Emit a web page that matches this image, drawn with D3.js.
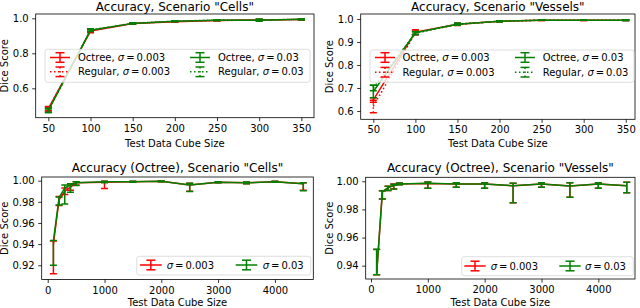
<!DOCTYPE html>
<html><head><meta charset="utf-8">
<script src="https://cdn.jsdelivr.net/npm/d3@7"></script>
<style>body{margin:0;background:#fff} svg{display:block} text{font-family:"DejaVu Sans",sans-serif;fill:#000}</style>
</head><body><svg id="c" width="640" height="308"></svg>
<script>
// ---------- data ----------
const xTop = [50, 100, 150, 200, 250, 300, 350];
const xTopTicks = [50, 100, 150, 200, 250, 300, 350];
const xBottom = [100, 200, 300, 400, 500, 1000, 1500, 2000, 2500, 3000, 3500, 4000, 4500];
const xBottomTicks = [0, 1000, 2000, 3000, 4000];

const yTicksCellsTop = [0.6, 0.8, 1.0];
const yTicksVesselsTop = [0.6, 0.7, 0.8, 0.9, 1.0];
const yTicksCellsBottom = [0.92, 0.94, 0.96, 0.98, 1.00];
const yTicksVesselsBottom = [0.94, 0.96, 0.98, 1.00];

const titles = ['Accuracy, Scenario "Cells"', 'Accuracy, Scenario "Vessels"',
  'Accuracy (Octree), Scenario "Cells"', 'Accuracy (Octree), Scenario "Vessels"'];
const xLabel = 'Test Data Cube Size';
const yLabel = 'Dice Score';
const sigmas = ['0.003', '0.03'];
const methods = ['Octree', 'Regular'];

// top: mean and symmetric error
const cellsOct003 = [0.484, 0.927, 0.970, 0.981, 0.988, 0.990, 0.993];
const cellsOct003Err = [0.012, 0.010, 0.004, 0.004, 0.002, 0.003, 0.002];
const cellsReg003 = [0.480, 0.929, 0.971, 0.982, 0.988, 0.991, 0.993];
const cellsReg003Err = [0.010, 0.008, 0.003, 0.003, 0.002, 0.003, 0.002];
const cellsOct03 = [0.474, 0.932, 0.971, 0.983, 0.989, 0.989, 0.994];
const cellsOct03Err = [0.012, 0.008, 0.004, 0.003, 0.002, 0.006, 0.002];
const cellsReg03 = [0.472, 0.933, 0.972, 0.984, 0.990, 0.991, 0.994];
const cellsReg03Err = [0.010, 0.006, 0.003, 0.002, 0.002, 0.004, 0.002];

const vesOct003 = [0.648, 0.943, 0.977, 0.990, 0.995, 0.995, 0.995];
const vesOct003Err = [0.010, 0.010, 0.004, 0.002, 0.002, 0.002, 0.002];
const vesReg003 = [0.620, 0.940, 0.976, 0.990, 0.995, 0.995, 0.995];
const vesReg003Err = [0.027, 0.008, 0.004, 0.002, 0.002, 0.002, 0.002];
const vesOct03 = [0.685, 0.940, 0.977, 0.990, 0.995, 0.995, 0.995];
const vesOct03Err = [0.027, 0.006, 0.004, 0.002, 0.001, 0.001, 0.002];
const vesReg03 = [0.700, 0.938, 0.978, 0.990, 0.995, 0.995, 0.995];
const vesReg03Err = [0.012, 0.006, 0.003, 0.002, 0.001, 0.001, 0.002];

// bottom: mean, lower and upper bounds
const cellsB003 = [0.940, 0.982, 0.990, 0.994, 0.998, 0.9985, 0.999, 0.9995, 0.996, 0.9985, 0.998, 0.999, 0.997];
const cellsB003Lo = [0.912, 0.9765, 0.987, 0.991, 0.996, 0.9925, 0.9985, 0.999, 0.990, 0.998, 0.997, 0.9985, 0.991];
const cellsB003Hi = [0.943, 0.985, 0.993, 0.996, 0.999, 0.9995, 0.9995, 0.9998, 0.9975, 0.999, 0.9988, 0.9995, 0.998];
const cellsB03 = [0.943, 0.984, 0.993, 0.996, 0.998, 0.999, 0.999, 0.9995, 0.996, 0.9985, 0.998, 0.999, 0.997];
const cellsB03Lo = [0.920, 0.977, 0.978, 0.989, 0.9955, 0.998, 0.9985, 0.999, 0.9897, 0.998, 0.997, 0.9985, 0.9905];
const cellsB03Hi = [0.9435, 0.9845, 0.996, 0.997, 0.999, 0.9995, 0.9995, 0.9998, 0.9975, 0.999, 0.9988, 0.9995, 0.998];

const vesB003 = [0.9345, 0.9925, 0.9955, 0.997, 0.998, 0.9985, 0.998, 0.998, 0.9968, 0.998, 0.9967, 0.998, 0.9969];
const vesB003Lo = [0.9335, 0.9874, 0.9935, 0.9945, 0.9975, 0.995, 0.9957, 0.995, 0.9848, 0.9957, 0.9886, 0.995, 0.9919];
const vesB003Hi = [0.9515, 0.9933, 0.9965, 0.998, 0.9988, 0.9995, 0.999, 0.999, 0.9986, 0.999, 0.999, 0.999, 0.9993];
const vesB03 = [0.9345, 0.9925, 0.9955, 0.997, 0.998, 0.9986, 0.998, 0.998, 0.9969, 0.998, 0.9967, 0.998, 0.9969];
const vesB03Lo = [0.9335, 0.9874, 0.9935, 0.9945, 0.9975, 0.995, 0.9957, 0.995, 0.9848, 0.9957, 0.9886, 0.995, 0.9919];
const vesB03Hi = [0.9517, 0.9933, 0.9965, 0.9979, 0.9988, 0.9995, 0.999, 0.999, 0.9986, 0.999, 0.999, 0.999, 0.9993];

// ---------- drawing ----------
const RED = '#ff0000', GREEN = '#008000';
const svg = d3.select('#c');
const sym = (m, e) => ({mean: m, lo: m.map((v, i) => v - e[i]), hi: m.map((v, i) => v + e[i])});

const panels = [
  {xs: xTop, xt: xTopTicks, yt: yTicksCellsTop, yf: d3.format('.1f'), xd: [35, 365], yd: [0.432, 1.0246],
   l: 35.7, r: 314, t: 14, b: 117.7, title: titles[0], titleY: 10.5, xlY: 146.5, ylX: 8,
   series: [
     Object.assign({color: RED, dotted: false}, sym(cellsOct003, cellsOct003Err)),
     Object.assign({color: RED, dotted: true}, sym(cellsReg003, cellsReg003Err)),
     Object.assign({color: GREEN, dotted: false}, sym(cellsOct03, cellsOct03Err)),
     Object.assign({color: GREEN, dotted: true}, sym(cellsReg03, cellsReg03Err))],
   legend: {box: [45, 49.3, 310, 82.3], rows: [57.5, 71.8], cols: [[50, 70, 78], [190, 210, 218]], four: true}},
  {xs: xTop, xt: xTopTicks, yt: yTicksVesselsTop, yf: d3.format('.1f'), xd: [35, 361], yd: [0.564, 1.0217],
   l: 360.7, r: 635, t: 14, b: 119.3, title: titles[1], titleY: 10.5, xlY: 146.5, ylX: 333,
   series: [
     Object.assign({color: RED, dotted: false}, sym(vesOct003, vesOct003Err)),
     Object.assign({color: RED, dotted: true}, sym(vesReg003, vesReg003Err)),
     Object.assign({color: GREEN, dotted: false}, sym(vesOct03, vesOct03Err)),
     Object.assign({color: GREEN, dotted: true}, sym(vesReg03, vesReg03Err))],
   legend: {box: [370, 50, 634, 82.3], rows: [57.5, 72.2], cols: [[375, 395, 402.5], [515, 535, 542.7]], four: true}},
  {xs: xBottom, xt: xBottomTicks, yt: yTicksCellsBottom, yf: d3.format('.2f'), xd: [-106, 4676], yd: [0.9065, 1.0035],
   l: 41.7, r: 313.3, t: 177, b: 279.5, title: titles[2], titleY: 171.5, xlY: 305.5, ylX: 8,
   series: [
     {color: RED, dotted: false, mean: cellsB003, lo: cellsB003Lo, hi: cellsB003Hi},
     {color: GREEN, dotted: false, mean: cellsB03, lo: cellsB03Lo, hi: cellsB03Hi}],
   legend: {box: [136.7, 256.3, 310.7, 275], rows: [265], cols: [[140, 161.7, 166.7], [235.7, 257.3, 262.7]], four: false}},
  {xs: xBottom, xt: xBottomTicks, yt: yTicksVesselsBottom, yf: d3.format('.2f'), xd: [-93, 4645], yd: [0.93055, 1.00284],
   l: 365.7, r: 635, t: 177.3, b: 279, title: titles[3], titleY: 171.5, xlY: 305.5, ylX: 333,
   series: [
     {color: RED, dotted: false, mean: vesB003, lo: vesB003Lo, hi: vesB003Hi},
     {color: GREEN, dotted: false, mean: vesB03, lo: vesB03Lo, hi: vesB03Hi}],
   legend: {box: [461.7, 256.7, 633.3, 275.7], rows: [266], cols: [[464.3, 485.7, 490.7], [559.3, 580.7, 585]], four: false}}
];

const DOT = '1.5,2.5';

function errBar(g, cx, y0, y1, cw, color, dotted) {
  g.append('line').attr('x1', cx).attr('x2', cx).attr('y1', y0).attr('y2', y1)
    .attr('stroke', color).attr('stroke-width', 1.5).attr('stroke-dasharray', dotted ? DOT : null);
  [y0, y1].forEach(yy => g.append('line').attr('x1', cx - cw).attr('x2', cx + cw).attr('y1', yy).attr('y2', yy)
    .attr('stroke', color).attr('stroke-width', 1.5));
}

function sigmaText(g, x, y, prefix, sig) {
  const t = g.append('text').attr('x', x).attr('y', y).attr('font-size', 10).attr('dy', '0.36em');
  if (prefix) t.append('tspan').text(prefix + ', ');
  t.append('tspan').attr('font-style', 'italic').text('σ');
  t.append('tspan').text('\u2009=\u2009' + sig);
}

panels.forEach((p, pi) => {
  const x = d3.scaleLinear().domain(p.xd).range([p.l, p.r]);
  const y = d3.scaleLinear().domain(p.yd).range([p.b, p.t]);
  const g = svg.append('g');
  const cid = 'clip' + pi;
  svg.append('clipPath').attr('id', cid).append('rect')
    .attr('x', p.l).attr('y', p.t).attr('width', p.r - p.l).attr('height', p.b - p.t);
  const plot = g.append('g').attr('clip-path', `url(#${cid})`);
  p.series.forEach(s => {
    const pts = p.xs.map((xv, i) => ({x: xv, m: s.mean[i], lo: s.lo[i], hi: s.hi[i]}));
    const sg = plot.append('g');
    sg.append('path').datum(pts)
      .attr('d', d3.line().x(d => x(d.x)).y(d => y(d.m)))
      .attr('fill', 'none').attr('stroke', s.color).attr('stroke-width', 1.5)
      .attr('stroke-dasharray', s.dotted ? DOT : null);
    pts.forEach(d => errBar(sg, x(d.x), y(d.lo), y(d.hi), 3.5, s.color, s.dotted));
  });
  // frame
  g.append('rect').attr('x', p.l).attr('y', p.t).attr('width', p.r - p.l).attr('height', p.b - p.t)
    .attr('fill', 'none').attr('stroke', '#000').attr('stroke-width', 0.8);
  // axes
  const ax = g.append('g').attr('transform', `translate(0,${p.b})`)
    .call(d3.axisBottom(x).tickValues(p.xt).tickSize(3.5).tickPadding(3.5).tickFormat(d3.format('d')));
  const ay = g.append('g').attr('transform', `translate(${p.l},0)`)
    .call(d3.axisLeft(y).tickValues(p.yt).tickSize(3.5).tickPadding(3.5).tickFormat(p.yf));
  [ax, ay].forEach(a => {
    a.select('.domain').remove();
    a.attr('font-family', '"DejaVu Sans", sans-serif').attr('font-size', 10);
    a.selectAll('line').attr('stroke-width', 0.8);
    a.selectAll('text').attr('fill', '#000');
  });
  // title & labels
  g.append('text').attr('x', (p.l + p.r) / 2).attr('y', p.titleY).attr('text-anchor', 'middle')
    .attr('font-size', 12).text(p.title);
  g.append('text').attr('x', (p.l + p.r) / 2).attr('y', p.xlY).attr('text-anchor', 'middle')
    .attr('font-size', 10).text(xLabel);
  g.append('text').attr('transform', `translate(${p.ylX},${(p.t + p.b) / 2}) rotate(-90)`)
    .attr('text-anchor', 'middle').attr('font-size', 10).text(yLabel);
  // legend
  const L = p.legend;
  const lg = g.append('g');
  lg.append('rect').attr('x', L.box[0]).attr('y', L.box[1]).attr('width', L.box[2] - L.box[0])
    .attr('height', L.box[3] - L.box[1]).attr('rx', 2.5)
    .attr('fill', 'rgba(255,255,255,0.8)').attr('stroke', '#d6d6d6').attr('stroke-width', 0.8);
  const cols = [RED, GREEN];
  L.cols.forEach((c, ci) => {
    L.rows.forEach((ry, ri) => {
      const dotted = L.four && ri === 1;
      const hx0 = c[0], hx1 = c[1];
      lg.append('line').attr('x1', hx0).attr('x2', hx1).attr('y1', ry).attr('y2', ry)
        .attr('stroke', cols[ci]).attr('stroke-width', 1.5).attr('stroke-dasharray', dotted ? DOT : null);
      errBar(lg, (hx0 + hx1) / 2, ry - 4.8, ry + 4.8, 4.5, cols[ci], dotted);
      sigmaText(lg, c[2], ry, L.four ? methods[ri] : null, sigmas[ci]);
    });
  });
});
</script></body></html>
